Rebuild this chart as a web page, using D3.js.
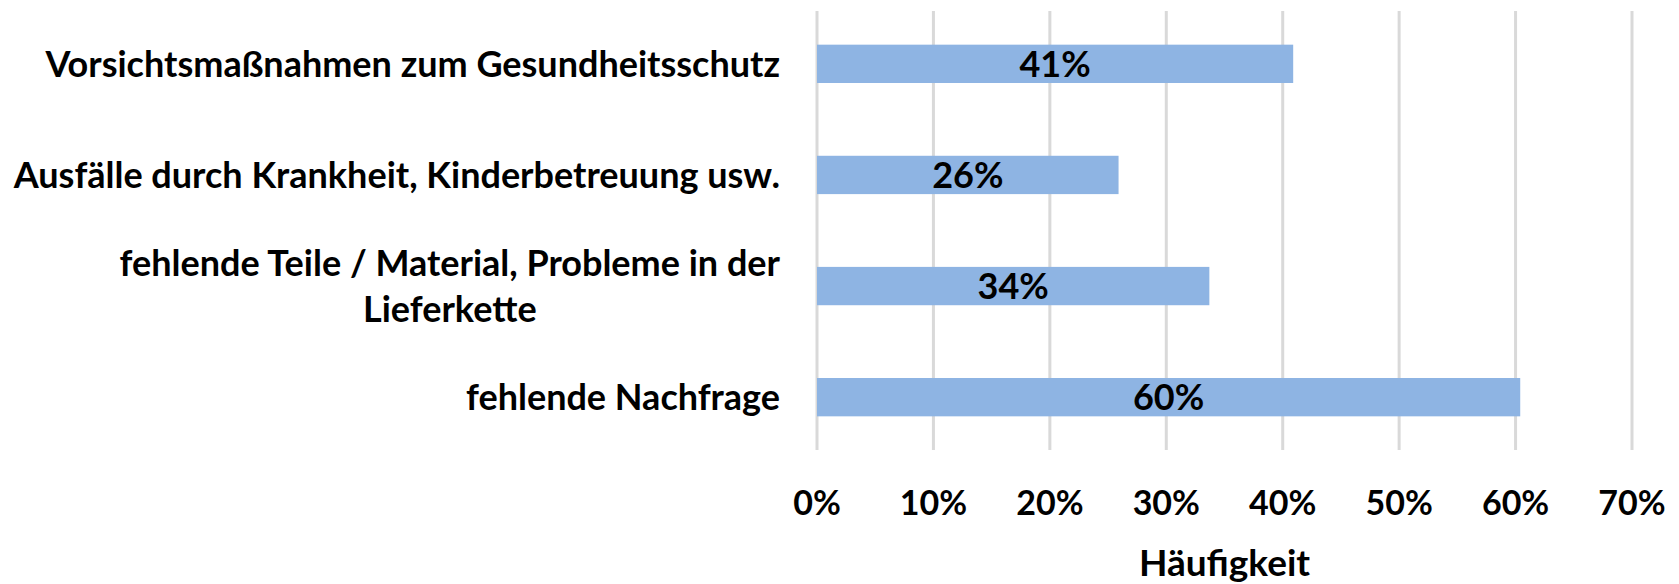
<!DOCTYPE html>
<html>
<head>
<meta charset="utf-8">
<script src="https://cdn.jsdelivr.net/npm/d3@7"></script>
<style>
  html, body { margin: 0; padding: 0; background: #fff; }
  svg { display: block; }
  text { font-family: Lato, "Open Sans", sans-serif; font-weight: 700; fill: #000; }
</style>
</head>
<body>
<div id="chart"></div>
<script>
// categories top to bottom, shares in %
const categories = [
  ["Vorsichtsmaßnahmen zum Gesundheitsschutz"],
  ["Ausfälle durch Krankheit, Kinderbetreuung usw."],
  ["fehlende Teile / Material, Probleme in der", "Lieferkette"],
  ["fehlende Nachfrage"]
];
const values = [40.9, 25.9, 33.7, 60.4];
const ticks = [0, 10, 20, 30, 40, 50, 60, 70];
const axisTitle = "Häufigkeit";

const width = 1679, height = 584;
const labelSize = 36, tickSize = 34, titleSize = 37;

const svg = d3.select("#chart").append("svg")
  .attr("width", width)
  .attr("height", height);

const x = d3.scaleLinear().domain([0, 70]).range([817, 1632]);
const y = d3.scaleBand().domain(d3.range(categories.length)).range([8, 453]).paddingInner(0.655).paddingOuter(0.33);

// gridlines
svg.append("g").selectAll("line")
  .data(ticks)
  .join("line")
  .attr("x1", d => x(d)).attr("x2", d => x(d))
  .attr("y1", 11).attr("y2", 450)
  .attr("stroke", "#d9d9d9")
  .attr("stroke-width", 3);

// bars
svg.append("g").selectAll("rect")
  .data(values)
  .join("rect")
  .attr("x", x(0))
  .attr("y", (d, i) => y(i))
  .attr("width", d => x(d) - x(0))
  .attr("height", y.bandwidth())
  .attr("fill", "#8eb4e3");

// value labels
svg.append("g").selectAll("text")
  .data(values)
  .join("text")
  .attr("x", d => (x(0) + x(d)) / 2)
  .attr("y", (d, i) => y(i) + y.bandwidth() / 2)
  .attr("dy", "0.36em")
  .attr("text-anchor", "middle")
  .style("font-size", labelSize + "px")
  .text(d => Math.round(d) + "%");

// x tick labels
svg.append("g").selectAll("text")
  .data(ticks)
  .join("text")
  .attr("x", d => x(d))
  .attr("y", 503)
  .attr("dy", "0.36em")
  .attr("text-anchor", "middle")
  .style("font-size", tickSize + "px")
  .text(d => d + "%");

svg.append("text")
  .attr("x", (x(0) + x(70)) / 2)
  .attr("y", 563)
  .attr("dy", "0.36em")
  .attr("text-anchor", "middle")
  .style("font-size", titleSize + "px")
  .text(axisTitle);

// category labels, right edge at 780, multi-line blocks centred on the first line
const labelRight = 780, lineGap = 46;
categories.forEach((lines, i) => {
  const cy = y(i) + y.bandwidth() / 2;
  const g = svg.append("g");
  const first = g.append("text")
    .style("font-size", labelSize + "px")
    .attr("text-anchor", "end")
    .attr("x", labelRight)
    .attr("dy", "0.36em")
    .text(lines[0]);
  if (lines.length === 1) {
    first.attr("y", cy);
    return;
  }
  const w = first.node().getComputedTextLength();
  const mid = labelRight - w / 2;
  first.attr("y", cy - lineGap / 2).attr("text-anchor", "middle").attr("x", mid);
  g.append("text")
    .style("font-size", labelSize + "px")
    .attr("text-anchor", "middle")
    .attr("x", mid)
    .attr("y", cy + lineGap / 2)
    .attr("dy", "0.36em")
    .text(lines[1]);
});
</script>
</body>
</html>
